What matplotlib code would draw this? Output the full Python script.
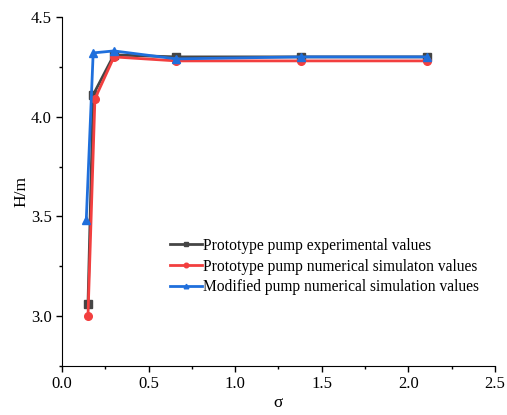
import matplotlib
matplotlib.use("Agg")
import matplotlib.pyplot as plt
from matplotlib.ticker import MultipleLocator

x_exp = [0.15, 0.18, 0.30, 0.66, 1.38, 2.11]
h_exp = [3.06, 4.11, 4.31, 4.30, 4.30, 4.30]
x_sim = [0.15, 0.19, 0.30, 0.66, 1.38, 2.11]
h_sim = [3.00, 4.09, 4.30, 4.28, 4.28, 4.28]
x_mod = [0.14, 0.18, 0.30, 0.66, 1.38, 2.11]
h_mod = [3.48, 4.32, 4.33, 4.29, 4.30, 4.30]
labels = ["Prototype pump experimental values",
          "Prototype pump numerical simulaton values",
          "Modified pump numerical simulation values"]

plt.rcParams['font.family'] = ['Liberation Serif', 'DejaVu Serif']
fig = plt.figure(figsize=(5.07, 4.15), dpi=100)
ax = fig.add_axes([0.1223, 0.118, 0.854, 0.841])

ax.plot(x_exp, h_exp, color='#454545', lw=2, marker='s', ms=5.5, label=labels[0])
ax.plot(x_sim, h_sim, color='#f23f3f', lw=2, marker='o', ms=5.5, label=labels[1])
ax.plot(x_mod, h_mod, color='#1f6fdc', lw=2, marker='^', ms=5.5, label=labels[2])

ax.set_xlim(0, 2.5)
ax.set_ylim(2.75, 4.5)
ax.xaxis.set_major_locator(MultipleLocator(0.5))
ax.xaxis.set_minor_locator(MultipleLocator(0.25))
ax.yaxis.set_major_locator(MultipleLocator(0.5))
ax.yaxis.set_minor_locator(MultipleLocator(0.25))
ax.tick_params(which='major', direction='out', length=4, width=1, labelsize=12)
ax.tick_params(which='minor', direction='out', length=2.5, width=1)
for s in ['top', 'right']:
    ax.spines[s].set_visible(False)
ax.set_xlabel('σ', fontsize=12.5, labelpad=2)
ax.set_ylabel('H/m', fontsize=12.5, labelpad=1)

leg = ax.legend(loc='upper left', bbox_to_anchor=(0.236, 0.385), frameon=False,
                fontsize=11.2, handlelength=2.0, handletextpad=0.1,
                labelspacing=0.3, markerscale=0.6, borderaxespad=0)

fig.savefig('out.png', dpi=100)
